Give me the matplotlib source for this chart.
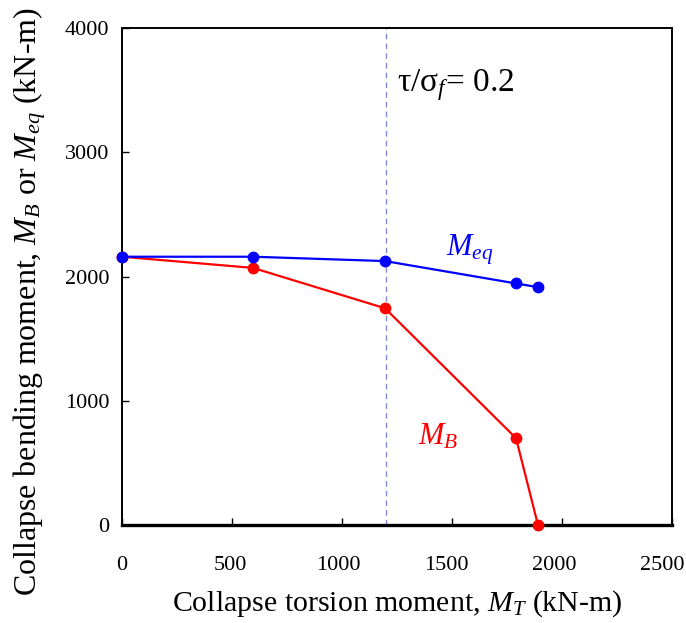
import matplotlib
matplotlib.use("Agg")
import matplotlib.pyplot as plt
import matplotlib.transforms as mtransforms

plt.rcParams['font.family'] = ['Liberation Serif', 'DejaVu Serif']
plt.rcParams['mathtext.fontset'] = 'custom'
plt.rcParams['mathtext.rm'] = 'Liberation Serif'
plt.rcParams['mathtext.it'] = 'Liberation Serif:italic'

# collapse torsion moment (kN-m)
torsion = [0, 595, 1195, 1790, 1890]
# equivalent bending moment M_eq (kN-m)
m_eq = [2160, 2160, 2125, 1945, 1915]
# bending moment M_B (kN-m)
m_b = [2160, 2070, 1745, 700, 0]
tau_line = 1200

fig = plt.figure(figsize=(6.86, 6.23), dpi=100)
ax = fig.add_axes([0.178, 0.157, 0.802, 0.798])

ax.axvline(tau_line, color='#8888cc', linestyle='--', linewidth=1.0, dashes=(4, 3))
ax.plot(torsion, m_eq, color='blue', marker='o', markersize=7.5, linewidth=1.6, clip_on=False, zorder=4)
ax.plot(torsion, m_b, color='red', marker='o', markersize=7.5, linewidth=1.6, clip_on=False, zorder=3)

ax.text(1250, 3490, r'τ/σ$_f$= 0.2', fontsize=24, color='black', va='baseline')
ax.text(1470, 2170, r'$M_{eq}$', fontsize=22, color='blue')
ax.text(1345, 650, r'$M_{B}$', fontsize=22, color='red')

ax.set_xlim(0, 2500)
ax.set_ylim(0, 4000)
ax.set_xticks([0, 500, 1000, 1500, 2000, 2500])
ax.set_yticks([0, 1000, 2000, 3000, 4000])
ax.tick_params(direction='in', length=5, width=1, labelsize=16)
ax.tick_params(axis='x', pad=22)
ax.tick_params(axis='y', pad=9)
for s in ax.spines.values():
    s.set_linewidth(1.4)
ax.spines['bottom'].set_linewidth(2.4)

# nudge x tick labels slightly left, more toward the right end
for i, lbl in enumerate(ax.get_xticklabels()):
    off = mtransforms.ScaledTranslation(-2.0 * i / 100, 0, fig.dpi_scale_trans)
    lbl.set_transform(lbl.get_transform() + off)

ax.set_xlabel(r'Collapse torsion moment, $M_T$ (kN-m)', fontsize=21.5, labelpad=10)
ax.set_ylabel(r'Collapse bending moment, $M_B$ or $M_{eq}$ (kN-m)', fontsize=23, labelpad=12)
ax.yaxis.label.set_y(0.45)

fig.savefig('out.png', dpi=100)
